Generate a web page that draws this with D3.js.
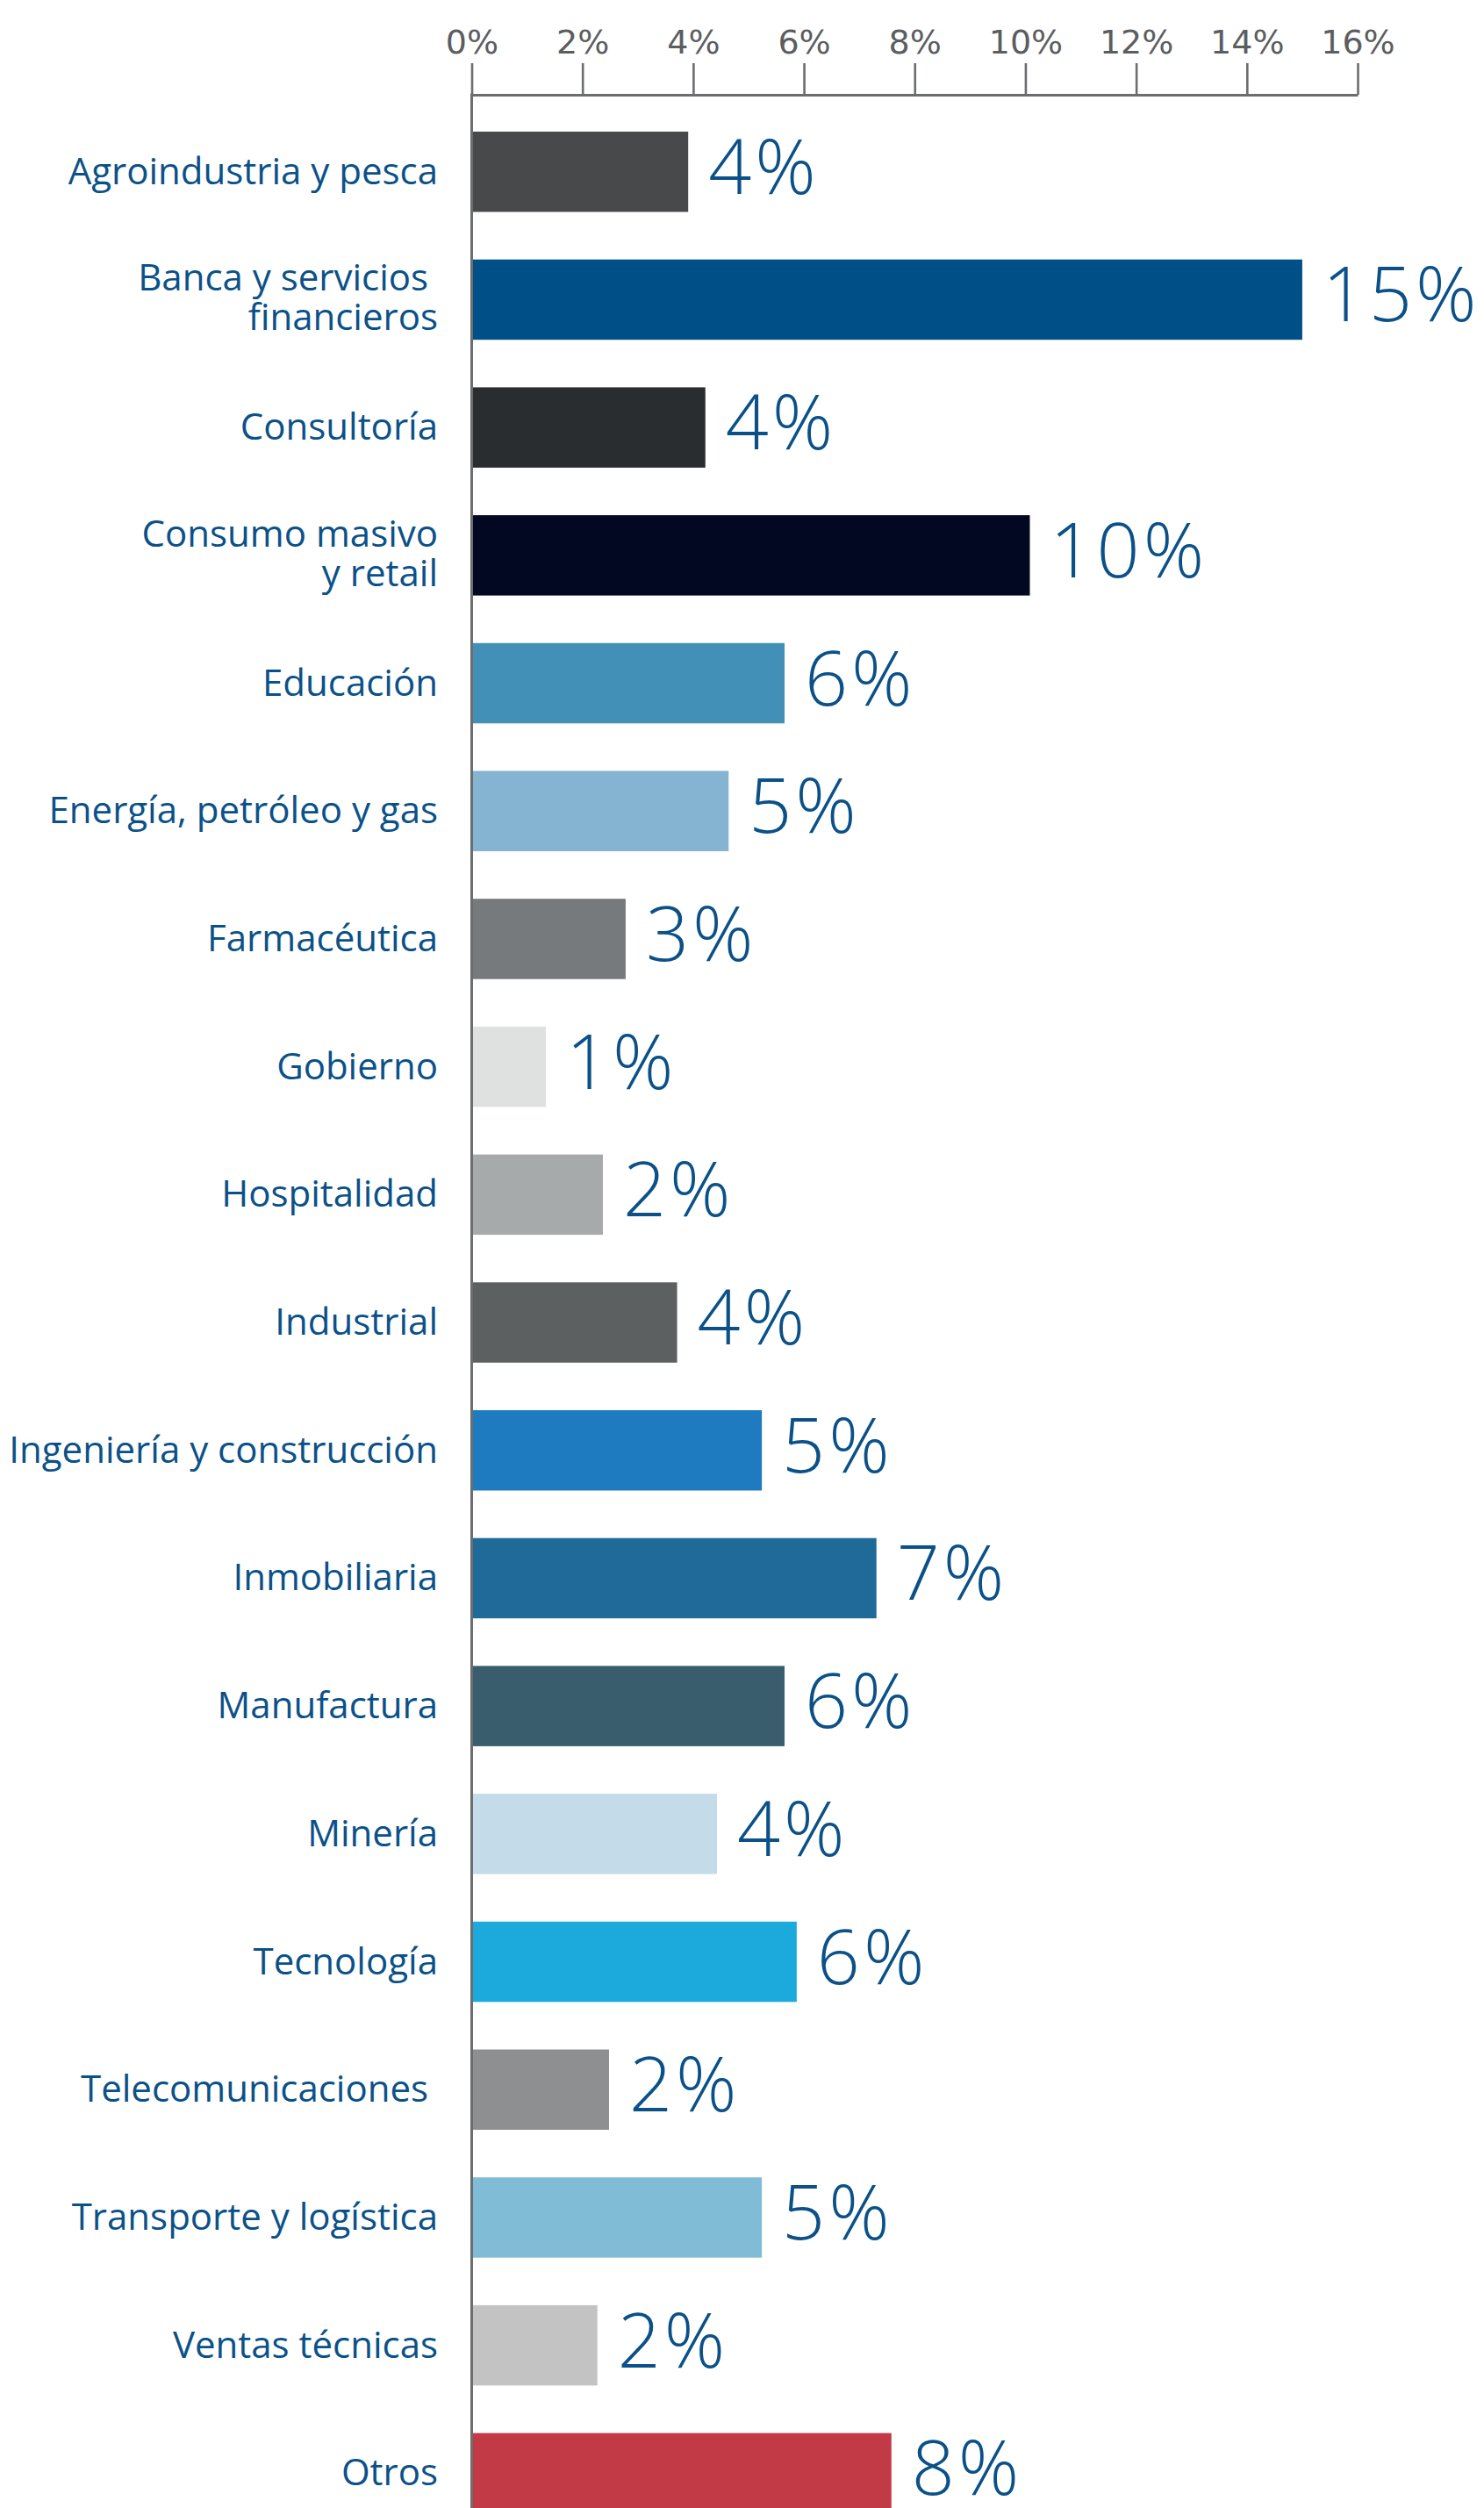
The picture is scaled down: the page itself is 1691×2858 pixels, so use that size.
<!DOCTYPE html>
<html lang="es">
<head>
<meta charset="utf-8">
<script src="https://cdn.jsdelivr.net/npm/d3@7/dist/d3.min.js"></script>
<style>
  html, body { margin: 0; padding: 0; background: #ffffff; }
  svg { display: block; }
  .tick text { font-family: "DejaVu Sans", sans-serif; }
</style>
</head>
<body>
<div id="chart"></div>
<script>
// Sectors (a "\n" splits a label over two lines)
const categories = [
  "Agroindustria y pesca",
  "Banca y servicios \nfinancieros",
  "Consultoría",
  "Consumo masivo\ny retail",
  "Educación",
  "Energía, petróleo y gas",
  "Farmacéutica",
  "Gobierno",
  "Hospitalidad",
  "Industrial",
  "Ingeniería y construcción",
  "Inmobiliaria",
  "Manufactura",
  "Minería",
  "Tecnología",
  "Telecomunicaciones ",
  "Transporte y logística",
  "Ventas técnicas",
  "Otros"
];

// Share of each sector, in percent
const shares = [3.91, 15.0, 4.22, 10.08, 5.65, 4.64, 2.78, 1.34, 2.37, 3.71,
                5.24, 7.31, 5.65, 4.43, 5.87, 2.48, 5.24, 2.27, 7.58];

// Bar fill per sector
const barColors = [
  "#48494b", "#005088", "#2a2d30", "#020821", "#4290b7", "#85b3d2",
  "#777a7c", "#dfe0e0", "#a7aaab", "#5d6061", "#1f7bbf", "#206a9a",
  "#3a5d6d", "#c4dbea", "#1caadd", "#8e8f91", "#80bcd5", "#c2c3c2",
  "#c23a46"
];

// Axis ticks (percent)
const tickValues = [0, 2, 4, 6, 8, 10, 12, 14, 16];

const width = 1691, height = 2858;
const axisY = 108;
const x0 = 537.5, x1 = 1547;
const labelBlue = "#0b5188";
const axisGray = "#6b6d6f";

const svg = d3.select("#chart").append("svg")
  .attr("width", width)
  .attr("height", height)
  .attr("viewBox", [0, 0, width, height]);

const x = d3.scaleLinear().domain([0, 16]).range([x0, x1]);

const step = 145.7;
const y = d3.scaleBand()
  .domain(categories)
  .range([122.9, 122.9 + step * categories.length])
  .paddingInner(0.372)
  .paddingOuter(0.186);

const data = categories.map((c, i) => ({ cat: c, value: shares[i], color: barColors[i] }));

// Bars
svg.append("g")
  .selectAll("rect")
  .data(data)
  .join("rect")
  .attr("x", x(0))
  .attr("y", d => y(d.cat))
  .attr("width", d => x(d.value) - x(0))
  .attr("height", y.bandwidth())
  .attr("fill", d => d.color);

// Value labels
const fmt = d3.format(".0f");
svg.append("g")
  .selectAll("text")
  .data(data)
  .join("text")
  .attr("x", d => x(d.value) + 23)
  .attr("y", d => y(d.cat) + y.bandwidth() / 2 + 25)
  .attr("font-family", "'Open Sans', Lato, sans-serif")
  .attr("font-weight", 300)
  .attr("font-size", 86)
  .attr("letter-spacing", 4)
  .attr("fill", labelBlue)
  .text(d => fmt(d.value) + "%");

// Category labels, right-aligned against the axis
const catG = svg.append("g")
  .attr("font-family", "'Open Sans', sans-serif")
  .attr("font-size", 42)
  .attr("fill", labelBlue)
  .attr("text-anchor", "end");

data.forEach(d => {
  const lines = d.cat.split("\n");
  const cy = y(d.cat) + y.bandwidth() / 2;
  const t = catG.append("text")
    .attr("x", 499)
    .attr("y", lines.length > 1 ? cy - 10 : cy + 14)
    .style("white-space", "pre");
  lines.forEach((ln, k) => {
    t.append("tspan")
      .attr("x", 499)
      .attr("dy", k === 0 ? 0 : 45)
      .text(ln);
  });
});

// Top percent axis
const xAxis = d3.axisTop(x)
  .tickValues(tickValues)
  .tickFormat(d => d + "%")
  .tickSize(36)
  .tickSizeOuter(0)
  .tickPadding(11);

const gx = svg.append("g")
  .attr("transform", `translate(0,${axisY})`)
  .call(xAxis);

gx.select(".domain").attr("stroke", axisGray).attr("stroke-width", 3);
gx.selectAll(".tick line").attr("stroke", axisGray).attr("stroke-width", 2.6);
gx.selectAll(".tick text")
  .attr("font-size", 38)
  .attr("fill", "#5b5d5f");

// Vertical baseline at zero
svg.append("line")
  .attr("x1", x(0)).attr("x2", x(0))
  .attr("y1", axisY - 1.5).attr("y2", height)
  .attr("stroke", axisGray)
  .attr("stroke-width", 3);
</script>
</body>
</html>
